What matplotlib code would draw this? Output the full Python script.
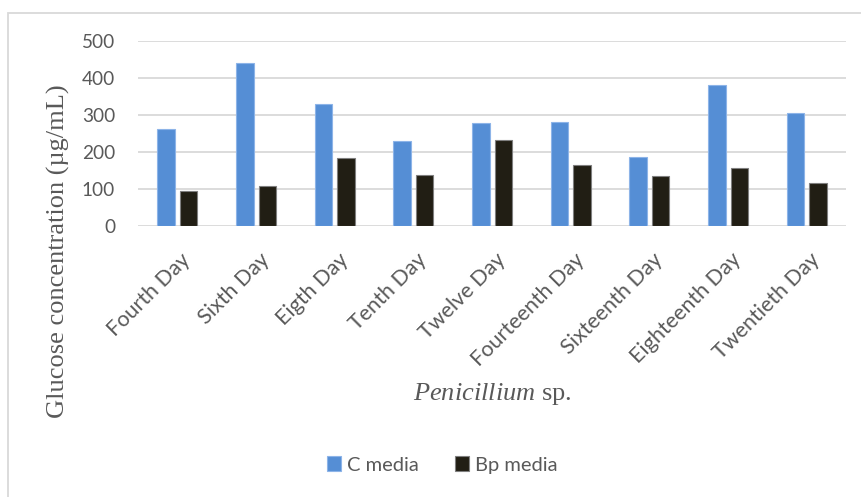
import numpy as np
import matplotlib.pyplot as plt
from matplotlib.patches import Rectangle

days = ["Fourth Day", "Sixth Day", "Eigth Day", "Tenth Day", "Twelve Day",
        "Fourteenth Day", "Sixteenth Day", "Eighteenth Day", "Twentieth Day"]
c_media = [261, 440, 329, 230, 279, 281, 186, 380, 304]
bp_media = [93, 108, 182, 137, 232, 164, 134, 155, 116]

blue = "#558ED5"
dark = "#211E14"
text_gray = "#595959"
grid_gray = "#D9D9D9"

plt.rcParams["mathtext.fontset"] = "custom"
plt.rcParams["mathtext.it"] = "Liberation Serif:italic"
plt.rcParams["mathtext.rm"] = "Liberation Serif"

fig = plt.figure(figsize=(8.61, 4.97), dpi=100)
ax = fig.add_axes([0.1603, 0.5459, 0.8223, 0.3716])

# chart frame (only left and top edges fall inside the image)
fig.patches.append(Rectangle((7.5 / 861, -0.1), 1.2, 1 - 12.5 / 497 + 0.1,
                             transform=fig.transFigure, fill=False,
                             edgecolor=grid_gray, linewidth=1.3))

x = np.arange(len(days))
w = 0.222
gap = 0.064
ax.bar(x - (w + gap) / 2, c_media, w, color=blue, edgecolor="#8DB4E8",
       linewidth=0.8, label="C media", zorder=3)
ax.bar(x + (w + gap) / 2, bp_media, w, color=dark, edgecolor="#7F7F7F",
       linewidth=0.8, label="Bp media", zorder=3)

ax.set_xlim(-0.5, len(days) - 0.5)
ax.set_ylim(0, 500)
ax.set_yticks(np.arange(0, 501, 100))
ax.yaxis.grid(True, color=grid_gray, linewidth=1.3, zorder=0)
for s in ax.spines.values():
    s.set_visible(False)
ax.tick_params(length=0)
ax.tick_params(axis="y", pad=16.5)
ax.tick_params(axis="x", pad=17)

tick_font = "Lato"
ax.set_yticklabels([str(v) for v in range(0, 501, 100)], fontsize=13.7,
                   color=text_gray, family=tick_font)
ax.set_xticks(x + 0.04)
ax.set_xticklabels(days, rotation=45, ha="right", rotation_mode="anchor",
                   fontsize=15.5, color=text_gray, family=tick_font)

fig.text(58 / 861, 1 - 251 / 497, "Glucose concentration (µg/mL)",
         rotation=90, ha="center", va="center", fontsize=19,
         color=text_gray, family="Liberation Serif")
fig.text(492 / 861, 1 - 394 / 497, r"$\mathit{Penicillium}$ sp.",
         ha="center", va="center", fontsize=19, color=text_gray,
         family="Liberation Serif")

leg = fig.legend(loc="center", bbox_to_anchor=(442 / 861, 1 - 465 / 497),
                 ncol=2, frameon=False, prop={"family": tick_font, "size": 14.5},
                 handlelength=0.7, handleheight=0.7, handletextpad=0.3,
                 columnspacing=1.8)
for t in leg.get_texts():
    t.set_color(text_gray)

fig.savefig("out.png", dpi=100)
